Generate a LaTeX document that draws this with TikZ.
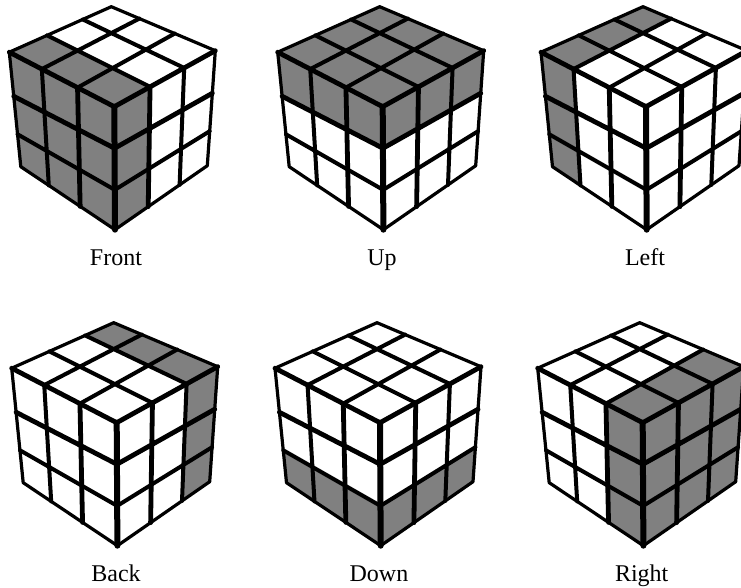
\documentclass[tikz,border=0pt]{standalone}
\usepackage{fontspec}
\setmainfont{Liberation Serif}
\usetikzlibrary{calc}
\definecolor{turncol}{RGB}{128,128,128}
\tikzset{
  cubelabel/.style={anchor=base,inner sep=0pt,font=\fontsize{12}{14}\selectfont},
  turncell/.style={fill=turncol,draw=none},
  outerline/.style={line width=1.6pt,line join=round,line cap=round},
  farline/.style={line width=2pt,line cap=round},
  gridline/.style={line width=2.4pt,line cap=round},
  nearline/.style={line width=3pt,line cap=round}
}
% one cube around its near top corner (C), gray cells come in #3
\newcommand{\rubik}[3]{
  \begin{scope}[shift={(#1,#2)}]
  \coordinate (C) at (0,0);\coordinate (L) at (-105,-54.5);
  \coordinate (T) at (-3,-100);\coordinate (R) at (101,-56);
  \coordinate (B) at (0.7,123);\coordinate (BL) at (-93.5,60);\coordinate (BR) at (93,59);
  \coordinate (a1) at ($(L)!.31!(C)$);\coordinate (a2) at ($(L)!.65!(C)$);
  \coordinate (b1) at ($(T)!.27!(R)$);\coordinate (b2) at ($(T)!.61!(R)$);
  \coordinate (c1) at ($(L)!.37!(T)$);\coordinate (c2) at ($(L)!.72!(T)$);
  \coordinate (d1) at ($(C)!.354!(R)$);\coordinate (d2) at ($(C)!.692!(R)$);
  \coordinate (e1) at ($(BL)!.297!(B)$);\coordinate (e2) at ($(BL)!.63!(B)$);
  \coordinate (h1) at ($(B)!.36!(BR)$);\coordinate (h2) at ($(B)!.70!(BR)$);
  \coordinate (f1) at ($(L)!.385!(BL)$);\coordinate (f2) at ($(L)!.717!(BL)$);
  \coordinate (g1) at ($(C)!.338!(B)$);\coordinate (g2) at ($(C)!.676!(B)$);
  \coordinate (i1) at ($(R)!.37!(BR)$);\coordinate (i2) at ($(R)!.70!(BR)$);
  #3
  \draw[farline] (a1)--(b1) (a2)--(b2) (c1)--(d1) (c2)--(d2);
  \draw[farline] (a1)--(e1) (f2)--(g2) (d2)--(h2) (g2)--(i2);
  \draw[gridline] (a2)--(e2) (f1)--(g1) (d1)--(h1) (g1)--(i1);
  \draw[gridline] (L)--(C)--(R);
  \draw[nearline] (C)--(B);
  \draw[outerline] (L)--(T)--(R)--(BR)--(B)--(BL)--cycle;
  \end{scope}
}

\begin{document}
\begin{tikzpicture}[x=0.5pt,y=-0.5pt]
  \useasboundingbox (0,0) rectangle (741,588);
  \clip (0,0) rectangle (741,588);
  \rubik{114.3}{106.7}{
    \fill[turncell] (L)--(C)--(B)--(BL)--cycle;
    \fill[turncell] (L)--(C)--(d1)--(c1)--cycle;
    \fill[turncell] (C)--(d1)--(h1)--(B)--cycle;}
  \rubik{382.7}{106.7}{
    \fill[turncell] (L)--(T)--(R)--(C)--cycle;
    \fill[turncell] (L)--(C)--(g1)--(f1)--cycle;
    \fill[turncell] (C)--(R)--(i1)--(g1)--cycle;}
  \rubik{646}{106.7}{
    \fill[turncell] (L)--(a1)--(e1)--(BL)--cycle;
    \fill[turncell] (L)--(T)--(b1)--(a1)--cycle;}
  \rubik{116.7}{422.7}{
    \fill[turncell] (T)--(R)--(d2)--(c2)--cycle;
    \fill[turncell] (R)--(d2)--(h2)--(BR)--cycle;}
  \rubik{380}{422.7}{
    \fill[turncell] (f2)--(g2)--(B)--(BL)--cycle;
    \fill[turncell] (g2)--(i2)--(BR)--(B)--cycle;}
  \rubik{642.7}{422.7}{
    \fill[turncell] (C)--(R)--(BR)--(B)--cycle;
    \fill[turncell] (C)--(R)--(b2)--(a2)--cycle;
    \fill[turncell] (a2)--(C)--(B)--(e2)--cycle;}
  \node[cubelabel] (front) at (116,266) {Front};
  \node[cubelabel] (up) at (382,266) {Up};
  \node[cubelabel] (left) at (645,266) {Left};
  \node[cubelabel] (back) at (116,581.5) {Back};
  \node[cubelabel] (down) at (379,581.5) {Down};
  \node[cubelabel] (right) at (641.7,581.5) {Right};
\end{tikzpicture}
\end{document}
